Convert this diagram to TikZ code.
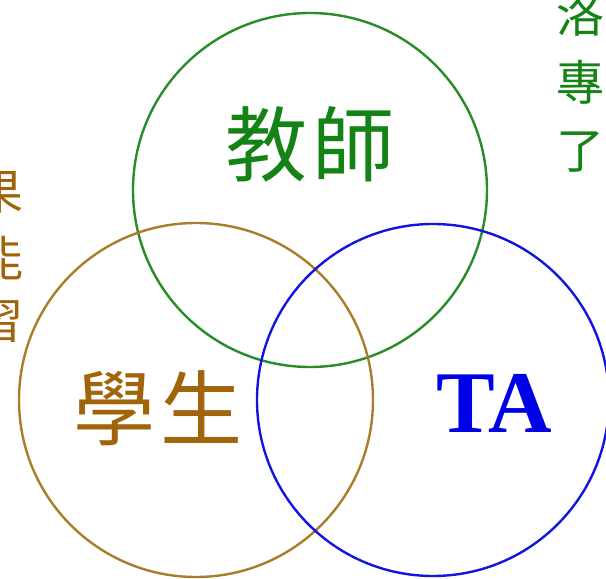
\documentclass[tikz,border=0pt]{standalone}
\usepackage{fontspec}
\setmainfont{Liberation Serif}
\newfontfamily\cjk{Noto Sans CJK TC}
\definecolor{gring}{RGB}{40,140,40}
\definecolor{gtext}{RGB}{20,130,20}
\definecolor{bring}{RGB}{170,125,45}
\definecolor{btext}{RGB}{160,100,10}
\definecolor{uring}{RGB}{20,20,225}
\definecolor{utext}{RGB}{0,0,230}
\tikzset{
  ring/.style={circle, draw, line width=2.4pt, inner sep=0pt, minimum size=#1},
  bigcjk/.style={inner sep=0pt, font=\cjk\fontsize{82}{82}\selectfont},
  edgecjk/.style={inner sep=0pt, font=\cjk\fontsize{48}{48}\selectfont}
}
\begin{document}
\begin{tikzpicture}[x=1pt,y=1pt]
\useasboundingbox (0,0) rectangle (606,579);
\clip (0,0) rectangle (606,579);
\fill[white] (0,0) rectangle (606,579);
% circles
\node[ring=354, draw=gring] (teacher) at (310,389) {};
\node[ring=354, draw=bring] (student) at (196,179) {};
\node[ring=352, draw=uring] (ta) at (433,179) {};
% labels
\node[bigcjk, text=gtext] (tlabel) at (310,435) {教\hspace{6pt}師};
\node[bigcjk, text=btext] (slabel) at (158,171) {學\hspace{6pt}生};
\node[inner sep=0pt, text=utext, font=\bfseries\fontsize{88}{88}\selectfont] (alabel) at (494,176) {TA};
% side texts, cut off by the picture's edge as in the reference
\node[edgecjk, text=gtext] (r1) at (580,565) {洛};
\node[edgecjk, text=gtext] (r2) at (580,497) {專};
\node[edgecjk, text=gtext] (r3) at (580,427) {了};
\node[edgecjk, text=btext] (l1) at (0,387) {果};
\node[edgecjk, text=btext] (l2) at (0,321) {能};
\node[edgecjk, text=btext] (l3) at (0,257) {習};
\end{tikzpicture}
\end{document}
